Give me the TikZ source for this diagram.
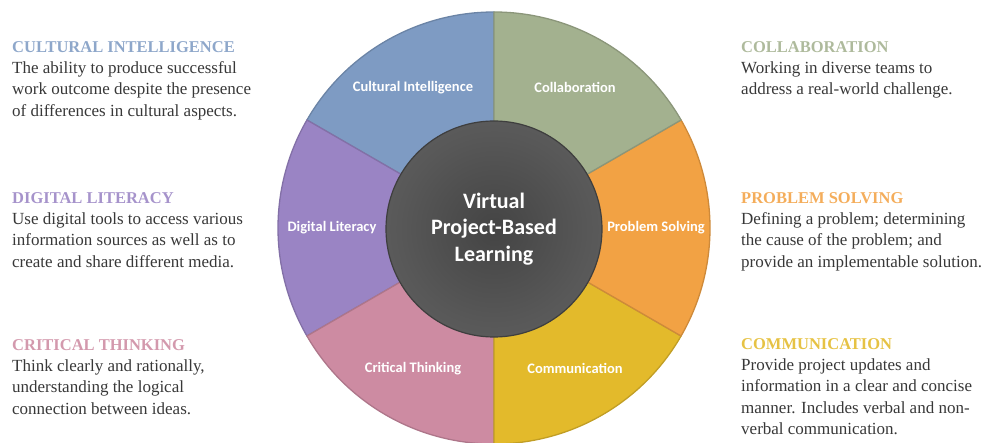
\documentclass[tikz,border=0pt]{standalone}
\usepackage{fontspec}
\setmainfont{Liberation Serif}
\newfontfamily\labelfont{Carlito}
\usetikzlibrary{positioning}

% wheel colours
\definecolor{ciblue}{HTML}{7E9BC3}
\definecolor{cogreen}{HTML}{A3B18F}
\definecolor{psorange}{HTML}{F2A244}
\definecolor{cmyellow}{HTML}{E3BA2B}
\definecolor{ctpink}{HTML}{CD8BA2}
\definecolor{dlpurple}{HTML}{9A84C4}
\definecolor{hubin}{HTML}{444444}
\definecolor{hubmid}{HTML}{585858}
\definecolor{hubout}{HTML}{6C6C6C}
\definecolor{hubedge}{HTML}{3E3E3E}
\definecolor{bodytext}{HTML}{383838}

\pgfdeclareradialshading{hubshade}{\pgfpoint{0bp}{0bp}}{color(0bp)=(hubin); color(22bp)=(hubmid); color(50bp)=(hubout)}

% coloured title line of a description
\newcommand{\blurbtitle}[2]{{\fontsize{16.5}{21.3}\selectfont\bfseries\color{#1!88!white}#2}}

\begin{document}
\begin{tikzpicture}[x=1pt, y=1pt,
  sector/.style={line width=1.3pt, line join=round},
  seglabel/.style={text=white, font=\labelfont\bfseries\fontsize{14.5}{17}\selectfont},
  hub/.style={circle, draw=hubedge, line width=1.2pt, shading=hubshade, minimum size=216pt,
    inner sep=0pt, align=center, text=white, font=\labelfont\bfseries\fontsize{22}{26.5}\selectfont},
  blurb/.style={anchor=north west, align=left, inner sep=0pt, text=bodytext,
    font=\fontsize{17}{21.3}\selectfont}]
  \useasboundingbox (-494,-215) rectangle (490,228);

  % ring of six slices, the hub covers their inner part
  \foreach \a/\c in {90/ciblue, 150/dlpurple, 210/ctpink, 270/cmyellow, 330/psorange, 30/cogreen}
    \draw[sector, fill=\c, draw=\c!85!black] (0,0) -- (\a:216) arc[start angle=\a, delta angle=60, radius=216] -- cycle;
  \foreach \a/\t/\n in {120/Cultural Intelligence/ci, 60/Collaboration/co, 180/Digital Literacy/dl,
      0/Problem Solving/ps, 240/Critical Thinking/ct, 300/Communication/cm}
    \node[seglabel] (seg-\n) at (\a:162) {\t};

  \node[hub] (hub) at (0,-1) {Virtual\\Project-Based\\Learning};

  % descriptions on both sides
  \node[blurb] (ci) at (-482,187) {\blurbtitle{ciblue}{CULTURAL INTELLIGENCE}\\The ability to produce successful\\work outcome despite the presence\\of differences in cultural aspects.};
  \node[blurb] (dl) at (-482,36) {\blurbtitle{dlpurple}{DIGITAL LITERACY}\\Use digital tools to access various\\information sources as well as to\\create and share different media.};
  \node[blurb] (ct) at (-482,-111) {\blurbtitle{ctpink}{CRITICAL THINKING}\\Think clearly and rationally,\\understanding the logical\\connection between ideas.};
  \node[blurb] (co) at (247,187) {\blurbtitle{cogreen}{COLLABORATION}\\Working in diverse teams to\\address a real-world challenge.};
  \node[blurb] (ps) at (247,36) {\blurbtitle{psorange}{PROBLEM SOLVING}\\Defining a problem; determining\\the cause of the problem; and\\provide an implementable solution.};
  \node[blurb] (cm) at (247,-110) {\blurbtitle{cmyellow}{COMMUNICATION}\\Provide project updates and\\information in a clear and concise\\manner. Includes verbal and non-\\verbal communication.};
\end{tikzpicture}
\end{document}
